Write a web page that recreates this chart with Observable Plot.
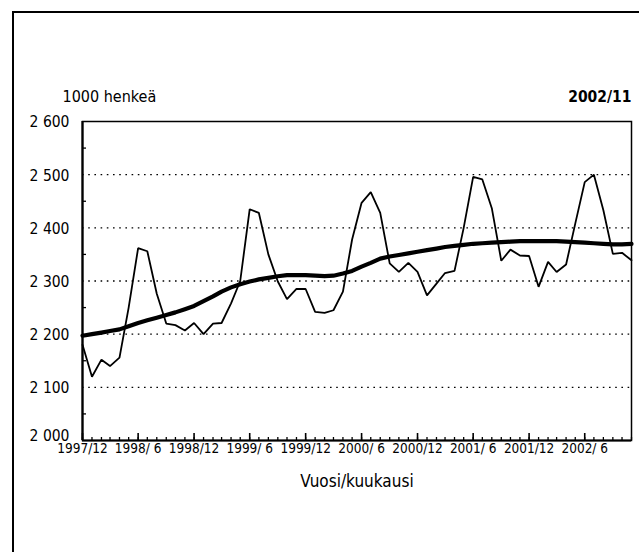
<!DOCTYPE html>
<html><head><meta charset="utf-8">
<script src="https://cdn.jsdelivr.net/npm/d3@7"></script>
<script src="https://cdn.jsdelivr.net/npm/@observablehq/plot@0.6"></script>
<style>
body{margin:0;background:#fff;}
#wrap{position:relative;width:639px;height:552px;overflow:hidden;background:#fff;}
#border{position:absolute;left:12px;top:11px;width:700px;height:700px;border-left:2px solid #000;border-top:2px solid #000;pointer-events:none;}
#wrap svg{position:absolute;left:0;top:0;}
</style></head><body><div id="wrap"><div id="border"></div></div>
<script>
// Monthly employed persons (1000), 1997/12 – 2002/11
const firstMonth = [1997, 11]; // Dec 1997 (UTC month index)
const lastMonth = [2002, 10];  // Nov 2002
const raw = [
  2180, 2120, 2152, 2140, 2156, 2250, 2362, 2356, 2276, 2220, 2217, 2207,
  2221, 2200, 2220, 2221, 2258, 2300, 2435, 2428, 2350, 2299, 2266, 2285,
  2285, 2242, 2240, 2245, 2280, 2378, 2447, 2467, 2428, 2333, 2317, 2334,
  2317, 2273, 2295, 2315, 2319, 2400, 2496, 2491, 2437, 2338, 2359, 2348,
  2347, 2289, 2336, 2317, 2331, 2408, 2486, 2500, 2433, 2351, 2353, 2339
];
const trend = [
  2197, 2200, 2203, 2206, 2209, 2215, 2221, 2226, 2231, 2236, 2241, 2247,
  2253, 2262, 2271, 2280, 2288, 2294, 2299, 2303, 2306, 2309, 2311, 2311,
  2311, 2310, 2309, 2310, 2314, 2319, 2327, 2334, 2342, 2346, 2349, 2352,
  2355, 2358, 2361, 2364, 2366, 2368, 2370, 2371, 2372, 2373, 2374, 2375,
  2375, 2375, 2375, 2375, 2374, 2373, 2372, 2371, 2370, 2369, 2369, 2370
];
const yTicks = [2100, 2200, 2300, 2400, 2500, 2600];
const yTickLabels = ["2 100", "2 200", "2 300", "2 400", "2 500", "2 600"];
const yBase = [2000];
const yBaseLabel = ["2 000"];
const yGrid = [2100, 2200, 2300, 2400, 2500];
const yMinor = [2050, 2150, 2250, 2350, 2450, 2550];
const xTickMonths = [[1997, 11], [1998, 5], [1998, 11], [1999, 5], [1999, 11], [2000, 5], [2000, 11], [2001, 5], [2001, 11], [2002, 5]];
const xTickLabels = ["1997/12", "1998/ 6", "1998/12", "1999/ 6", "1999/12", "2000/ 6", "2000/12", "2001/ 6", "2001/12", "2002/ 6"];
const yUnit = "1000 henkeä";
const period = "2002/11";
const xTitle = "Vuosi/kuukausi";

const FONT = "'Liberation Sans Narrow', 'DejaVu Sans Condensed', 'Arial Narrow', sans-serif";
const ym = ([y, m]) => new Date(Date.UTC(y, m, 1));
const months = d3.utcMonth.range(ym(firstMonth), d3.utcMonth.offset(ym(lastMonth), 1));
const data = months.map((d, i) => ({date: d, raw: raw[i], trend: trend[i]}));
const majorDates = xTickMonths.map(ym);

const chart = Plot.plot({
  width: 639, height: 552,
  marginLeft: 82, marginRight: 8, marginTop: 121, marginBottom: 112,
  style: {fontFamily: FONT, fontSize: "15px", color: "#000", background: "transparent", overflow: "visible"},
  x: {type: "utc", domain: [months[0], months[months.length - 1]], label: null},
  y: {domain: [2000, 2600], label: null},
  marks: [
    Plot.gridY(yGrid, {stroke: "#000", strokeOpacity: 1, strokeWidth: 1.4, strokeDasharray: "1.6,4.6"}),
    Plot.axisY(yMinor, {tickSize: 4, dx: 4, fill: "none", strokeWidth: 1.3, label: null}),
    Plot.axisY(yTicks, {tickSize: 0, tickPadding: 13, tickFormat: (d, i) => yTickLabels[i], fontSize: 15.5, dy: 1, label: null}),
    Plot.axisY(yBase, {tickSize: 0, tickPadding: 13, tickFormat: (d, i) => yBaseLabel[i], fontSize: 15.5, dy: -4, label: null}),
    Plot.axisX(months, {tickSize: 3, dy: -3, fill: "none", strokeWidth: 1.3, label: null}),
    Plot.axisX(majorDates, {tickSize: 7, dy: -7, fill: "none", strokeWidth: 1.6, label: null}),
    Plot.axisX(majorDates, {tickSize: 0, tickPadding: 3, tickFormat: (d, i) => xTickLabels[i], fontSize: 13.5, label: null}),
    Plot.frame({stroke: "#000", strokeWidth: 1.5}),
    Plot.ruleX([months[0]], {stroke: "#000", strokeWidth: 2.2}),
    Plot.ruleY([2000], {stroke: "#000", strokeWidth: 2}),
    Plot.line(data, {x: "date", y: "raw", stroke: "#000", strokeWidth: 1.8, strokeLinejoin: "miter"}),
    Plot.line(data, {x: "date", y: "trend", stroke: "#000", strokeWidth: 4.2, strokeLinejoin: "round", strokeLinecap: "round"}),
    Plot.text([yUnit], {frameAnchor: "top-left", dx: -20, dy: -20, lineAnchor: "bottom", textAnchor: "start", fontSize: 16}),
    Plot.text([period], {frameAnchor: "top-right", dx: 0, dy: -20, lineAnchor: "bottom", textAnchor: "end", fontSize: 15.5, fontWeight: "bold"}),
    Plot.text([xTitle], {frameAnchor: "bottom", dx: 0, dy: 34, lineAnchor: "top", textAnchor: "middle", fontSize: 17})
  ]
});
document.getElementById("wrap").appendChild(chart);
</script>
</body></html>
